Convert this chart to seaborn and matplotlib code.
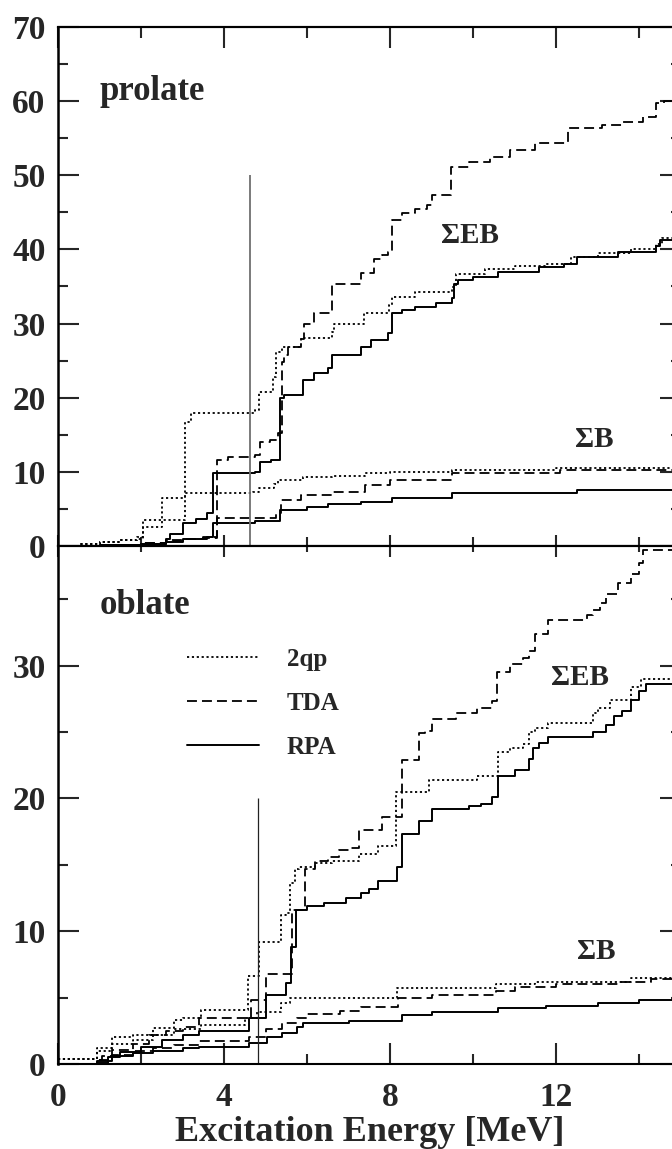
import numpy as np
import pandas as pd
import matplotlib
matplotlib.use("Agg")
import matplotlib.pyplot as plt
from matplotlib.ticker import MultipleLocator
import seaborn as sns

# ---------------- data (cumulative strength, step functions) ----------------
# prolate panel, sum E*B
prolate_EB_2qp_E = [0, 0.5, 1.0, 1.5, 1.9, 2.05, 3.05, 3.2, 4.75, 4.85, 5.18, 5.26, 5.4, 5.86, 6.6, 6.65,
                    7.38, 7.98, 8.05, 8.6, 9.5, 9.6, 10.3, 11.0, 11.75, 12.35, 13.0, 13.8, 14.4, 14.55, 15.0]
prolate_EB_2qp_S = [0, 0.3, 0.5, 0.8, 1.2, 3.5, 16.7, 17.9, 18.3, 20.8, 22.8, 26.2, 26.9, 28.0, 28.9, 30.0,
                    31.4, 32.5, 33.6, 34.2, 34.9, 36.7, 37.3, 37.7, 38.1, 39.0, 39.5, 40.0, 40.7, 41.5, 41.8]
prolate_EB_TDA_E = [0, 1.0, 2.0, 2.6, 3.0, 3.5, 3.82, 4.1, 4.74, 4.86, 5.1, 5.3, 5.4, 5.45, 5.55, 5.86, 5.92,
                    6.18, 6.6, 7.3, 7.62, 7.8, 7.95, 8.05, 8.3, 8.6, 8.9, 9.0, 9.47, 9.9, 10.4, 10.9, 11.5,
                    12.3, 13.1, 13.6, 14.1, 14.4, 14.6, 15.0]
prolate_EB_TDA_S = [0, 0.2, 0.4, 0.8, 1.0, 1.2, 11.6, 12.0, 12.3, 14.0, 14.3, 15.2, 24.8, 25.8, 26.9, 27.9, 30.0,
                    31.4, 35.3, 36.8, 38.7, 39.2, 39.6, 44.0, 44.9, 45.5, 46.0, 47.3, 51.1, 51.8, 52.5, 53.4, 54.3,
                    56.4, 56.8, 57.2, 57.9, 59.7, 60.0, 60.2]
prolate_EB_RPA_E = [0, 1.0, 2.0, 2.6, 2.7, 3.0, 3.33, 3.58, 3.73, 4.74, 4.86, 5.14, 5.34, 5.45, 5.9, 6.18, 6.5,
                    6.6, 7.3, 7.55, 7.94, 8.05, 8.3, 8.6, 9.1, 9.5, 9.55, 9.65, 10.0, 10.6, 11.6, 12.2, 12.5,
                    13.5, 14.4, 14.5, 15.0]
prolate_EB_RPA_S = [0, 0.1, 0.3, 0.9, 1.6, 3.1, 3.6, 4.4, 9.8, 10.0, 11.3, 11.6, 20.0, 20.4, 22.4, 23.4, 24.0,
                    25.8, 26.9, 27.8, 28.7, 31.4, 31.8, 32.2, 32.8, 33.4, 35.4, 35.9, 36.3, 37.0, 37.6, 38.1, 39.0,
                    39.6, 40.4, 41.3, 41.6]
# prolate panel, sum B
prolate_B_2qp_E = [0, 0.5, 1.0, 1.5, 1.9, 2.05, 2.5, 3.05, 4.7, 4.85, 5.2, 5.3, 5.9, 6.6, 7.4, 8.0, 9.5, 12.0, 15.0]
prolate_B_2qp_S = [0, 0.3, 0.5, 0.8, 1.0, 2.6, 6.5, 7.1, 7.3, 7.8, 8.3, 8.9, 9.3, 9.5, 9.8, 10.0, 10.3, 10.5, 10.6]
prolate_B_TDA_E = [0, 1.0, 2.0, 2.6, 3.0, 3.5, 3.82, 5.26, 5.37, 5.86, 6.6, 7.4, 8.0, 9.5, 12.1, 15.0]
prolate_B_TDA_S = [0, 0.2, 0.4, 0.7, 0.9, 1.1, 3.8, 4.4, 6.2, 6.9, 7.3, 8.2, 8.9, 9.8, 10.2, 10.4]
prolate_B_RPA_E = [0, 1.0, 2.0, 2.6, 3.0, 3.58, 3.73, 4.74, 5.34, 6.0, 6.5, 7.3, 8.05, 9.5, 12.5, 15.0]
prolate_B_RPA_S = [0, 0.1, 0.3, 0.6, 0.9, 1.2, 3.1, 3.4, 4.9, 5.3, 5.6, 5.9, 6.5, 7.1, 7.5, 7.6]

# oblate panel, sum E*B
oblate_EB_2qp_E = [0, 0.93, 1.3, 1.8, 2.3, 2.8, 3.0, 3.45, 4.57, 4.84, 5.38, 5.5, 5.58, 5.7, 5.8, 6.2, 6.6,
                   7.26, 7.7, 8.15, 8.95, 10.1, 10.6, 10.9, 11.2, 11.35, 11.5, 11.8, 12.9, 13.0, 13.3, 13.8,
                   14.06, 15.0]
oblate_EB_2qp_S = [0.4, 1.2, 2.0, 2.2, 2.7, 3.3, 3.5, 4.1, 6.6, 9.2, 11.2, 11.4, 13.6, 14.7, 14.8, 15.1, 15.3,
                   15.8, 16.4, 20.5, 21.4, 21.7, 23.5, 23.8, 24.1, 25.0, 25.3, 25.7, 26.4, 26.8, 27.4, 28.4,
                   29.0, 29.1]
oblate_EB_TDA_E = [0, 0.95, 1.05, 1.3, 1.8, 2.2, 2.6, 3.0, 3.4, 4.66, 5.02, 5.65, 5.94, 6.2, 6.5, 6.78, 7.0,
                   7.26, 7.8, 8.3, 8.7, 8.85, 9.0, 9.6, 10.1, 10.45, 10.58, 10.9, 11.2, 11.35, 11.5, 11.8,
                   12.74, 12.9, 13.05, 13.2, 13.5, 13.8, 14.0, 14.1, 15.0]
oblate_EB_TDA_S = [0, 0.3, 0.6, 1.05, 1.5, 2.2, 2.5, 2.8, 3.5, 4.8, 6.8, 11.6, 14.7, 15.3, 15.6, 16.1, 16.3,
                   17.6, 18.6, 22.9, 24.9, 25.1, 26.0, 26.4, 26.8, 27.3, 29.5, 30.1, 30.6, 31.1, 32.4, 33.4,
                   33.8, 34.2, 34.7, 35.4, 36.2, 36.9, 37.7, 38.7, 38.9]
oblate_EB_RPA_E = [0, 0.95, 1.2, 1.5, 2.0, 2.5, 3.0, 3.4, 4.6, 5.02, 5.5, 5.62, 5.74, 6.0, 6.4, 6.95, 7.3,
                   7.5, 7.7, 8.17, 8.3, 8.7, 9.0, 9.9, 10.2, 10.45, 10.6, 11.0, 11.35, 11.45, 11.6, 11.8,
                   12.9, 13.2, 13.4, 13.6, 13.8, 14.0, 14.16, 15.0]
oblate_EB_RPA_S = [0, 0.1, 0.5, 0.9, 1.3, 1.8, 2.2, 2.5, 3.5, 5.2, 6.1, 8.8, 11.6, 11.9, 12.1, 12.5, 12.9,
                   13.2, 13.8, 14.8, 17.3, 18.3, 19.2, 19.4, 19.6, 20.1, 21.7, 22.1, 23.0, 23.8, 24.2, 24.6,
                   25.0, 25.5, 26.2, 26.6, 27.4, 28.1, 28.6, 28.7]
# oblate panel, sum B
oblate_B_2qp_E = [0, 0.93, 1.3, 1.8, 2.3, 2.8, 3.45, 4.5, 4.8, 5.38, 5.6, 8.17, 10.55, 11.5, 13.8, 15.0]
oblate_B_2qp_S = [0.4, 1.0, 1.5, 1.8, 2.2, 2.6, 2.9, 3.5, 3.9, 4.6, 5.0, 5.7, 6.0, 6.2, 6.45, 6.5]
oblate_B_TDA_E = [0, 0.95, 1.3, 1.8, 2.3, 2.8, 3.4, 4.6, 5.02, 5.4, 5.77, 6.0, 6.8, 7.3, 8.2, 9.0, 10.55,
                  11.0, 12.0, 13.5, 14.3, 15.0]
oblate_B_TDA_S = [0, 0.3, 0.7, 1.0, 1.2, 1.4, 1.7, 2.0, 2.6, 3.1, 3.5, 3.8, 4.0, 4.3, 5.0, 5.2, 5.5,
                  5.8, 6.0, 6.2, 6.4, 6.5]
oblate_B_RPA_E = [0, 0.95, 1.3, 1.8, 2.3, 3.0, 3.4, 4.6, 5.03, 5.4, 5.75, 5.9, 7.0, 8.3, 9.0, 10.6, 11.75,
                  13.0, 14.0, 15.0]
oblate_B_RPA_S = [0, 0.2, 0.6, 0.8, 1.0, 1.2, 1.3, 1.55, 2.0, 2.3, 2.8, 3.1, 3.2, 3.7, 3.9, 4.2, 4.4,
                  4.6, 4.8, 4.85]

# threshold markers (energy, height)
prolate_threshold = (4.62, 50)
oblate_threshold = (4.83, 20)

methods = ["2qp", "TDA", "RPA"]
x_ticks = [0, 4, 8, 12]

# ---------------- style ----------------
sns.set_style("white")
plt.rcParams["font.family"] = ["Liberation Serif", "DejaVu Serif"]
plt.rcParams["font.weight"] = "bold"
plt.rcParams["axes.labelweight"] = "bold"
plt.rcParams["axes.linewidth"] = 1.5
plt.rcParams["axes.edgecolor"] = "black"

LS = {"2qp": (0, (1.2, 1.5)), "TDA": (0, (5.5, 2.8)), "RPA": "-"}
LW = {"2qp": 1.3, "TDA": 1.3, "RPA": 1.4}

W, H = 672, 1149
fig = plt.figure(figsize=(W / 100, H / 100), dpi=100)
ax_top = fig.add_axes([58 / W, 1 - 546 / H, 622.5 / W, 519 / H])
ax_bot = fig.add_axes([58 / W, 1 - 1064 / H, 622.5 / W, 518 / H])


def draw(ax, E, S, method):
    df = pd.DataFrame({"E": E, "S": S})
    sns.lineplot(data=df, x="E", y="S", ax=ax, color="black", linewidth=LW[method],
                 linestyle=LS[method], drawstyle="steps-post", estimator=None,
                 sort=False, legend=False)
    return ax.lines[-1]


top_sets = {
    "2qp": [(prolate_EB_2qp_E, prolate_EB_2qp_S), (prolate_B_2qp_E, prolate_B_2qp_S)],
    "TDA": [(prolate_EB_TDA_E, prolate_EB_TDA_S), (prolate_B_TDA_E, prolate_B_TDA_S)],
    "RPA": [(prolate_EB_RPA_E, prolate_EB_RPA_S), (prolate_B_RPA_E, prolate_B_RPA_S)],
}
bot_sets = {
    "2qp": [(oblate_EB_2qp_E, oblate_EB_2qp_S), (oblate_B_2qp_E, oblate_B_2qp_S)],
    "TDA": [(oblate_EB_TDA_E, oblate_EB_TDA_S), (oblate_B_TDA_E, oblate_B_TDA_S)],
    "RPA": [(oblate_EB_RPA_E, oblate_EB_RPA_S), (oblate_B_RPA_E, oblate_B_RPA_S)],
}

for m in methods:
    for E, S in top_sets[m]:
        draw(ax_top, E, S, m)

handles = []
for m in methods:
    hs = [draw(ax_bot, E, S, m) for E, S in bot_sets[m]]
    handles.append(hs[0])

ax_top.vlines(prolate_threshold[0], 0, prolate_threshold[1], color="#707070", lw=1.3)
ax_bot.vlines(oblate_threshold[0], 0, oblate_threshold[1], color="#222222", lw=0.9)

# ---------------- axes ----------------
for ax, ymax in ((ax_top, 70), (ax_bot, 39)):
    ax.set_xlim(0, 15)
    ax.set_ylim(0, ymax)
    ax.set_xlabel("")
    ax.set_ylabel("")
    ax.yaxis.set_major_locator(MultipleLocator(10))
    ax.yaxis.set_minor_locator(MultipleLocator(5))
    ax.xaxis.set_major_locator(MultipleLocator(4))
    ax.xaxis.set_minor_locator(MultipleLocator(2))
    ax.tick_params(axis="y", which="both", direction="in", left=True, right=True,
                   width=1.5, labelsize=24, pad=9)
    ax.tick_params(axis="y", which="major", length=15)
    ax.tick_params(axis="y", which="minor", length=7.5)
    for sp in ax.spines.values():
        sp.set_linewidth(1.5)
        sp.set_color("black")
    ax.spines["left"].set_linewidth(1.8)

# top panel: long ticks on top, short ones on the shared middle line
ax_top.tick_params(axis="x", which="both", direction="in", bottom=True, top=False,
                   labelbottom=False, width=1.5)
ax_top.tick_params(axis="x", which="major", length=8)
ax_top.tick_params(axis="x", which="minor", length=6.5)
sec_top = ax_top.secondary_xaxis("top")
sec_top.xaxis.set_major_locator(MultipleLocator(4))
sec_top.xaxis.set_minor_locator(MultipleLocator(2))
sec_top.tick_params(axis="x", which="both", direction="in", labeltop=False, width=1.5)
sec_top.tick_params(axis="x", which="major", length=15)
sec_top.tick_params(axis="x", which="minor", length=8)

# bottom panel
ax_bot.set_xticks(x_ticks)
ax_bot.set_xticklabels([str(t) for t in x_ticks])
ax_bot.tick_params(axis="x", which="both", direction="in", bottom=True, top=False,
                   labelbottom=True, width=1.5, labelsize=24, pad=13)
ax_bot.tick_params(axis="x", which="major", length=15)
ax_bot.tick_params(axis="x", which="minor", length=7.5)
sec_bot = ax_bot.secondary_xaxis("top")
sec_bot.xaxis.set_major_locator(MultipleLocator(4))
sec_bot.xaxis.set_minor_locator(MultipleLocator(2))
sec_bot.tick_params(axis="x", which="both", direction="in", labeltop=False, width=1.5)
sec_bot.tick_params(axis="x", which="major", length=8)
sec_bot.tick_params(axis="x", which="minor", length=4.5)

ax_bot.set_xlabel("Excitation Energy [MeV]", fontsize=26, fontweight="bold", labelpad=2)

# ---------------- annotations ----------------
ax_top.text(1.0, 60.2, "prolate", fontsize=25, fontweight="bold", ha="left", va="baseline")
ax_bot.text(1.0, 33.9, "oblate", fontsize=25, fontweight="bold", ha="left", va="baseline")
ax_top.text(9.93, 41.9, "ΣEB", fontsize=21, fontweight="bold", ha="center", va="center")
ax_top.text(12.93, 14.3, "ΣB", fontsize=21, fontweight="bold", ha="center", va="center")
ax_bot.text(12.57, 29.1, "ΣEB", fontsize=21, fontweight="bold", ha="center", va="center")
ax_bot.text(12.98, 8.5, "ΣB", fontsize=21, fontweight="bold", ha="center", va="center")

ax_bot.legend(handles, methods, loc="upper left", bbox_to_anchor=(0.207, 0.803),
              frameon=False, fontsize=18, handlelength=2.9, handletextpad=1.1,
              labelspacing=0.84, borderpad=0, borderaxespad=0,
              prop={"weight": "bold", "size": 18})

fig.savefig("out.png", dpi=100)
